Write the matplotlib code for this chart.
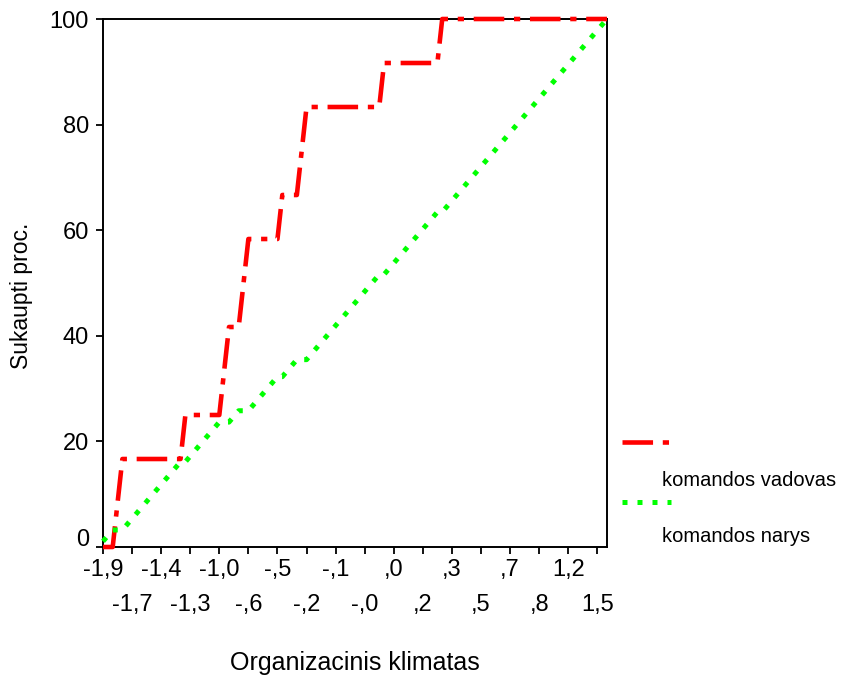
import matplotlib
matplotlib.use("Agg")
import matplotlib.pyplot as plt
import pandas as pd
from matplotlib.lines import Line2D
from matplotlib import transforms

plt.rcParams['font.family'] = ['Liberation Sans', 'DejaVu Sans']
plt.rcParams['lines.scale_dashes'] = False

# grupe kiekvienai klimato reiksmei (kategorijai) is eiles:
# v = komandos vadovas, n = komandos narys
grupes = ("nnnvvnnnnnnnnnn"
          "nnvnnnnnnnvvnnv"
          "vnnnnnnvnnnvvnn"
          "nnnnnnnnnnnnnvn"
          "nnnnnnnnnnvnnnn"
          "nnnnnnnnnnnnnnn"
          "nnnnnnnnnnnnnnn")

x_labels_top = ["-1,9", "-1,4", "-1,0", "-,5", "-,1", ",0", ",3", ",7", "1,2"]
x_labels_bottom = ["-1,7", "-1,3", "-,6", "-,2", "-,0", ",2", ",5", ",8", "1,5"]
y_ticks = [0, 20, 40, 60, 80, 100]
label_step = 6

series_names = ["komandos vadovas", "komandos narys"]
series_colors = ["#ff0000", "#00ff00"]

# sukaupti procentai
df = pd.DataFrame({'grupe': list(grupes)})
df['vadovas'] = (df['grupe'] == 'v').cumsum() / (df['grupe'] == 'v').sum() * 100
df['narys'] = (df['grupe'] == 'n').cumsum() / (df['grupe'] == 'n').sum() * 100
cats = list(range(len(df)))

W, H = 841, 680
fig = plt.figure(figsize=(W / 100, H / 100), dpi=100)
ax = fig.add_axes([103 / W, 133 / H, 504 / W, 528 / H])

red_dash = (22, 7, 4.5, 7)
green_dots = (3.6, 7.2)

ax.plot(cats, df['vadovas'], color=series_colors[0], lw=3.3,
        dashes=red_dash, dash_capstyle='butt', clip_on=False, zorder=3)
ax.plot(cats, df['narys'], color=series_colors[1], lw=3.6,
        dashes=green_dots, dash_capstyle='butt', clip_on=False, zorder=4)

ax.set_xlim(0, len(df) - 1)
ax.set_ylim(0, 100)

major = cats[0::2 * label_step]
minor = cats[label_step::2 * label_step]
ax.set_xticks(major, labels=x_labels_top)
ax.set_xticks(minor, labels=x_labels_bottom, minor=True)
ax.set_yticks(y_ticks, labels=[str(v) for v in y_ticks])

ax.tick_params(which='both', direction='out', length=5, width=1.3,
               labelsize=17, colors='black')
ax.tick_params(axis='x', which='major', pad=3.3)
ax.tick_params(axis='x', which='minor', pad=28.5)
ax.tick_params(axis='y', pad=5)

for s in ax.spines.values():
    s.set_linewidth(1.4)
    s.set_color('black')

# "0" SPSS stiliumi truputi pakeltas
lab0 = ax.get_yticklabels()[0]
lab0.set_transform(lab0.get_transform() +
                   transforms.ScaledTranslation(0, 7 / 72, fig.dpi_scale_trans))

# asiu pavadinimai
fig.text(22 / W, 1 - 296 / H, "Sukaupti proc.", rotation=90,
         ha='center', va='center', fontsize=16.5)
fig.text(355 / W, 1 - 663 / H, "Organizacinis klimatas",
         ha='center', va='center', fontsize=18)

# legenda (linija virs teksto, kaip SPSS)
fig.add_artist(Line2D([622 / W, 671 / W], [1 - 442 / H] * 2,
                      color=series_colors[0], lw=3.3, dashes=red_dash,
                      dash_capstyle='butt'))
fig.text(662 / W, 1 - 480 / H, series_names[0], ha='left', va='center',
         fontsize=14.5)
fig.add_artist(Line2D([622 / W, 671 / W], [1 - 502 / H] * 2,
                      color=series_colors[1], lw=3.6, dashes=green_dots,
                      dash_capstyle='butt'))
fig.text(662 / W, 1 - 537 / H, series_names[1], ha='left', va='center',
         fontsize=14.5)

fig.savefig("out.png", dpi=100)
